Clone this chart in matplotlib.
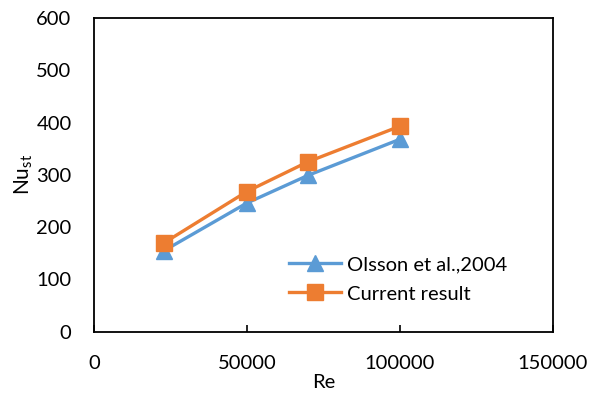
import matplotlib
matplotlib.use("Agg")
import matplotlib.pyplot as plt

plt.rcParams['font.family'] = ['Lato', 'DejaVu Sans']

re_vals = [23000, 50000, 70000, 100000]
nu_olsson = [155, 246, 299, 368]
nu_current = [170, 268, 325, 393]

blue = '#5B9BD5'
orange = '#ED7D31'

fig = plt.figure(figsize=(6.01, 4.01), dpi=100)
ax = fig.add_axes([0.156, 0.173, 0.764, 0.782])

ax.plot(re_vals, nu_olsson, color=blue, lw=2.4, marker='^', markersize=11,
        label='Olsson et al.,2004')
ax.plot(re_vals, nu_current, color=orange, lw=2.4, marker='s', markersize=12,
        label='Current result')

ax.set_xlim(0, 150000)
ax.set_ylim(0, 600)
ax.set_xticks([0, 50000, 100000, 150000])
ax.set_yticks(range(0, 601, 100))
ax.tick_params(axis='x', direction='in', length=5, width=1.2, pad=17, labelsize=14.5)
ax.tick_params(axis='y', length=0, pad=16, labelsize=14.5)
for s in ax.spines.values():
    s.set_linewidth(1.3)

ax.set_xlabel('Re', fontsize=14.5, labelpad=1)
ax.set_ylabel(r'Nu$_{\mathregular{st}}$', fontsize=15, labelpad=1)

ax.legend(loc='lower right', frameon=False, fontsize=14.5, handlelength=2.6,
          handletextpad=0.3, labelspacing=0.6, bbox_to_anchor=(0.94, 0.035))

fig.savefig('out.png', dpi=100)
